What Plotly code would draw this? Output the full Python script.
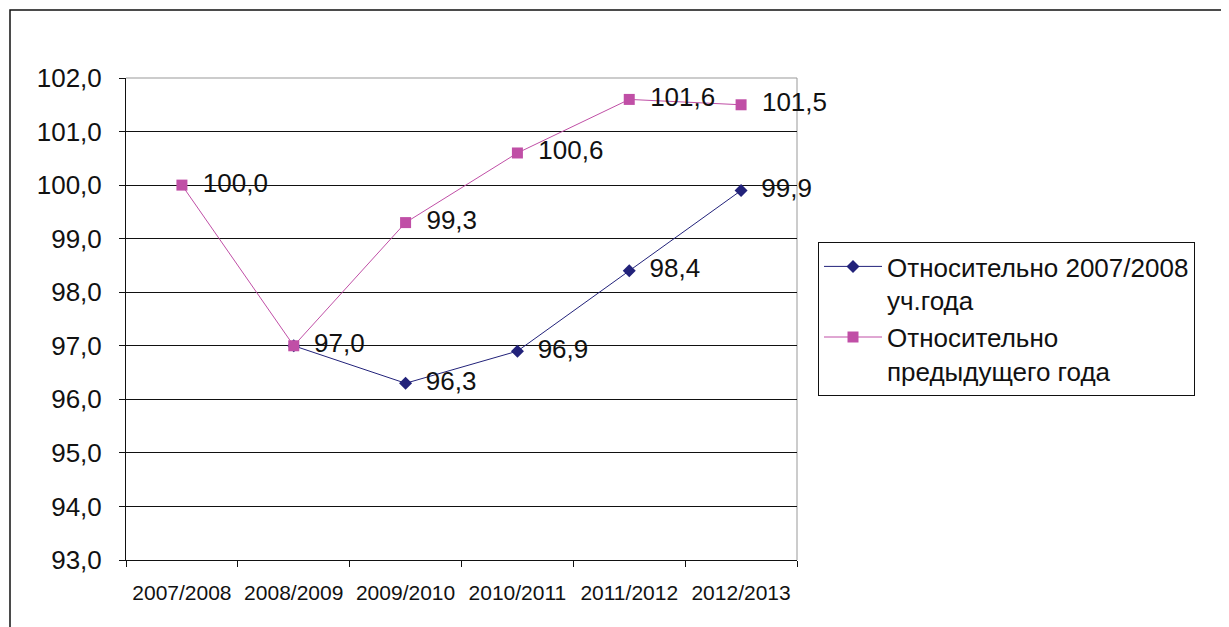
import plotly.graph_objects as go

categories = ["2007/2008", "2008/2009", "2009/2010", "2010/2011", "2011/2012", "2012/2013"]
series_base = [None, 97.0, 96.3, 96.9, 98.4, 99.9]
series_prev = [100.0, 97.0, 99.3, 100.6, 101.6, 101.5]
name_base = "Относительно 2007/2008<br>уч.года"
name_prev = "Относительно<br>предыдущего года"

def fmt(v):
    return "" if v is None else "\u2002" + ("%.1f" % v).replace(".", ",")

# labels of the second series are skipped where they coincide with the first (drawn once)
text_base = [fmt(v) for v in series_base]
text_prev = ["" if b == p else fmt(p) for b, p in zip(series_base, series_prev)]

W, H = 1229, 627
OFF = 8  # page body margin
L, R, T, B = 126 - OFF, 797 - OFF, 78 - OFF, 560 - OFF
FONT = "Liberation Sans, Arial, sans-serif"
INK = "#111111"

fig = go.Figure()
fig.add_trace(go.Scatter(
    x=categories, y=series_base, name=name_base, mode="lines+markers+text",
    line=dict(color="#22227a", width=1), marker=dict(symbol="diamond", size=10, color="#22227a"),
    text=text_base, textposition="middle right",
    textfont=dict(family=FONT, size=26, color=INK), cliponaxis=False,
))
fig.add_trace(go.Scatter(
    x=categories, y=series_prev, name=name_prev, mode="lines+markers+text",
    line=dict(color="#c04fa6", width=1), marker=dict(symbol="square", size=11, color="#c04fa6"),
    text=text_prev, textposition="middle right",
    textfont=dict(family=FONT, size=26, color=INK), cliponaxis=False,
))

pw = R - L
ph = B - T
def px(p):
    return (p - OFF - L) / pw
def py(p):
    return (B - (p - OFF)) / ph

fig.update_layout(
    width=W, height=H,
    margin=dict(l=L, r=W - R, t=T, b=H - B, autoexpand=False),
    paper_bgcolor="white", plot_bgcolor="white",
    separators=", ",
    font=dict(family=FONT, size=26, color=INK),
    legend=dict(
        x=px(818), y=py(242), xanchor="left", yanchor="top",
        bordercolor=INK, borderwidth=1, bgcolor="white",
        font=dict(family=FONT, size=26, color=INK),
        valign="top", itemwidth=58,
    ),
    xaxis=dict(
        type="category", range=[-0.5, 5.5], tickson="boundaries",
        ticks="outside", ticklen=6, tickcolor=INK,
        showline=True, linecolor=INK, linewidth=1, showgrid=False,
        tickfont=dict(family=FONT, size=21, color=INK),
        ticklabelstandoff=14,
    ),
    yaxis=dict(
        range=[93, 102], dtick=1, tickformat=".1f",
        ticks="outside", ticklen=6, tickcolor=INK,
        showline=True, linecolor=INK, linewidth=1,
        showgrid=True, gridcolor=INK, gridwidth=1, zeroline=False,
        tickfont=dict(family=FONT, size=26, color=INK),
        ticklabelstandoff=12,
    ),
    shapes=[
        dict(type="line", xref="paper", yref="paper", x0=0, x1=1, y0=1, y1=1,
             line=dict(color="#999999", width=1), layer="below"),
        dict(type="line", xref="paper", yref="paper", x0=1, x1=1, y0=0, y1=1,
             line=dict(color="#999999", width=1), layer="below"),
        dict(type="rect", xref="paper", yref="paper", x0=px(10), x1=px(1260), y0=py(660), y1=py(10),
             line=dict(color=INK, width=1.5), fillcolor="rgba(0,0,0,0)", layer="below"),
    ],
)

fig.write_html("out.html")
